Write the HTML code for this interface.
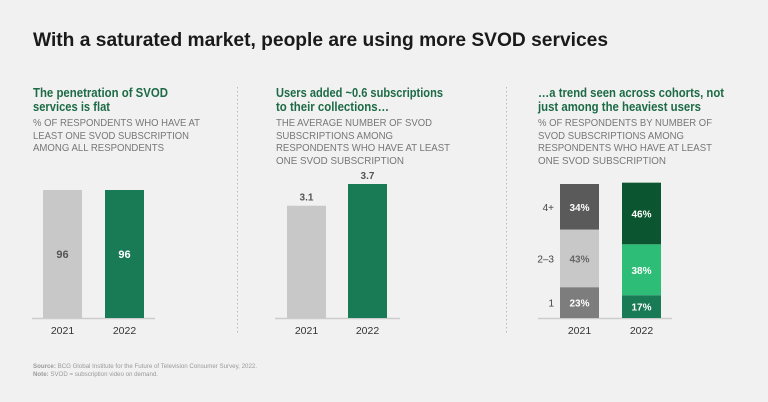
<!DOCTYPE html>
<html><head><meta charset="utf-8"><style>
html,body{margin:0;padding:0;background:#f1f1f1;}
svg{display:block;font-family:"Liberation Sans",sans-serif;}
</style></head><body>
<svg width="768" height="402" viewBox="0 0 768 402" xmlns="http://www.w3.org/2000/svg">
<rect width="768" height="402" fill="#f1f1f1"/>
<text x="33" y="46" font-size="19" font-weight="bold" fill="#1a1a1a" textLength="575" lengthAdjust="spacingAndGlyphs">With a saturated market, people are using more SVOD services</text>
<g font-size="12.5" font-weight="bold" fill="#1d6b46">
<text x="33" y="97" textLength="135" lengthAdjust="spacingAndGlyphs">The penetration of SVOD</text>
<text x="33" y="111" textLength="77" lengthAdjust="spacingAndGlyphs">services is flat</text>
<text x="276" y="97" textLength="167" lengthAdjust="spacingAndGlyphs">Users added ~0.6 subscriptions</text>
<text x="276" y="111" textLength="113" lengthAdjust="spacingAndGlyphs">to their collections…</text>
<text x="538" y="97" textLength="186" lengthAdjust="spacingAndGlyphs">…a trend seen across cohorts, not</text>
<text x="538" y="111" textLength="163" lengthAdjust="spacingAndGlyphs">just among the heaviest users</text>
</g>
<g font-size="10.5" fill="#777">
<text x="33" y="126" textLength="167" lengthAdjust="spacingAndGlyphs">% OF RESPONDENTS WHO HAVE AT</text>
<text x="33" y="139" textLength="156" lengthAdjust="spacingAndGlyphs">LEAST ONE SVOD SUBSCRIPTION</text>
<text x="33" y="151" textLength="131" lengthAdjust="spacingAndGlyphs">AMONG ALL RESPONDENTS</text>
<text x="276" y="126" textLength="156" lengthAdjust="spacingAndGlyphs">THE AVERAGE NUMBER OF SVOD</text>
<text x="276" y="139" textLength="117" lengthAdjust="spacingAndGlyphs">SUBSCRIPTIONS AMONG</text>
<text x="276" y="151" textLength="174" lengthAdjust="spacingAndGlyphs">RESPONDENTS WHO HAVE AT LEAST</text>
<text x="276" y="164" textLength="128" lengthAdjust="spacingAndGlyphs">ONE SVOD SUBSCRIPTION</text>
<text x="538" y="126" textLength="174" lengthAdjust="spacingAndGlyphs">% OF RESPONDENTS BY NUMBER OF</text>
<text x="538" y="139" textLength="146" lengthAdjust="spacingAndGlyphs">SVOD SUBSCRIPTIONS AMONG</text>
<text x="538" y="151" textLength="174" lengthAdjust="spacingAndGlyphs">RESPONDENTS WHO HAVE AT LEAST</text>
<text x="538" y="164" textLength="128" lengthAdjust="spacingAndGlyphs">ONE SVOD SUBSCRIPTION</text>
</g>
<line x1="237.5" y1="87" x2="237.5" y2="334" stroke="#bbb" stroke-dasharray="1.5,2.5"/>
<line x1="506.5" y1="87" x2="506.5" y2="334" stroke="#bbb" stroke-dasharray="1.5,2.5"/>
<g id="charts"></g>
<text x="33" y="368" font-size="6.5" fill="#999" textLength="224" lengthAdjust="spacingAndGlyphs"><tspan font-weight="bold">Source:</tspan> BCG Global Institute for the Future of Television Consumer Survey, 2022.</text>
<text x="33" y="376" font-size="6.5" fill="#999" textLength="125" lengthAdjust="spacingAndGlyphs"><tspan font-weight="bold">Note:</tspan> SVOD = subscription video on demand.</text>
</svg>
<script>
const years = ["2021","2022"];
const penetration = [96, 96];
const avgSubs = [3.1, 3.7];
const cohortLabels = ["1","2–3","4+"];
const cohort2021 = [23, 43, 34];
const cohort2022 = [17, 38, 46];

const NS="http://www.w3.org/2000/svg";
const g=document.getElementById('charts');
function mk(tag,attrs,parent){const e=document.createElementNS(NS,tag);for(const k in attrs)e.setAttribute(k,attrs[k]);(parent||g).appendChild(e);return e;}
const base=318;
const barX1=[43,105], barX2=[287,348], barX3=[560,622], bw=39;
const y1=v=>base-v*(128/96);
const y2=v=>base-v*(134/3.7);
const y3=v=>v*(134/100);

let a=mk('line',{x1:32,x2:155,y1:base+0.5,y2:base+0.5,stroke:'#ccc','stroke-width':1.5});


a=mk('line',{x1:275,x2:400,y1:base+0.5,y2:base+0.5,stroke:'#ccc','stroke-width':1.5});


a=mk('line',{x1:538,x2:672,y1:base+0.5,y2:base+0.5,stroke:'#ccc','stroke-width':1.5});



const colors=['#c8c8c8','#197a56'];
function yearLabels(xs,p){years.forEach((yr,i)=>{const t=mk('text',{x:xs[i]+bw/2,y:334,'text-anchor':'middle','font-size':10.5,fill:'#333'});t.textContent=yr;

});}

penetration.forEach((v,i)=>{
 const r=mk('rect',{x:barX1[i],y:y1(v),width:bw,height:base-y1(v),fill:colors[i]});
 
 
 const t=mk('text',{x:barX1[i]+bw/2,y:(y1(v)+base)/2+4,'text-anchor':'middle','font-size':11,'font-weight':'bold',fill:i?'#fff':'#555'});
 t.textContent=v;
 
 
});
yearLabels(barX1,'panel1');

avgSubs.forEach((v,i)=>{
 const r=mk('rect',{x:barX2[i],y:y2(v),width:bw,height:base-y2(v),fill:colors[i]});
 
 
 const t=mk('text',{x:barX2[i]+bw/2,y:y2(v)-5,'text-anchor':'middle','font-size':10,'font-weight':'bold',fill:'#555'});
 t.textContent=v.toFixed(1);
 
 
});
yearLabels(barX2,'panel2');

const c21=['#7d7d7d','#c8c8c8','#5a5a5a'], c22=['#197a56','#2dbd77','#0b5530'];
const t21=['#fff','#666','#fff'];
[cohort2021,cohort2022].forEach((arr,si)=>{
 let cum=0;
 arr.forEach((v,j)=>{
  const yb=base-y3(cum), yt=base-y3(cum+v);
  const r=mk('rect',{x:barX3[si],y:yt,width:bw,height:yb-yt,fill:(si?c22:c21)[j]});
  
  
  const t=mk('text',{x:barX3[si]+bw/2,y:(yt+yb)/2+4,'text-anchor':'middle','font-size':10,'font-weight':'bold',fill:si?'#fff':t21[j]});
  t.textContent=v+'%';
  
  
  cum+=v;
 });
});
let cum=0;
cohort2021.forEach((v,j)=>{
 const t=mk('text',{x:554,y:base-y3(cum+v/2)+4,'text-anchor':'end','font-size':10,fill:'#444'});
 t.textContent=cohortLabels[j];
 
 
 cum+=v;
});
yearLabels(barX3,'panel3');
</script>
</body></html>
